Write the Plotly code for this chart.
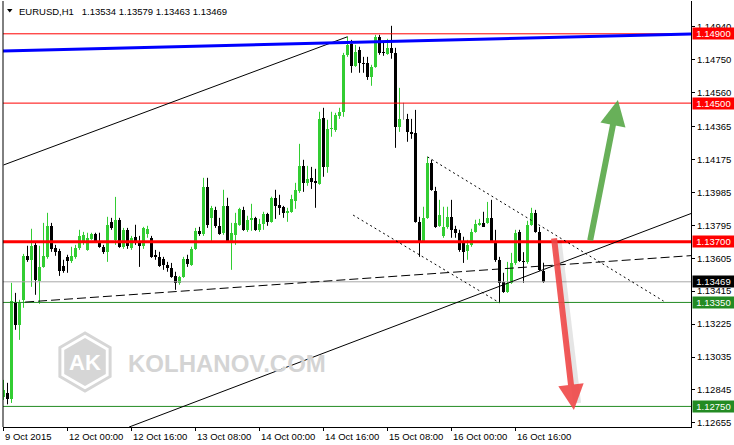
import math
import plotly.graph_objects as go

# ---------------- data (EURUSD H1, 9 Oct 08:00 .. 16 Oct 23:00) ----------------
opens = [
    1.12805, 1.12828, 1.12794, 1.13353, 1.13221, 1.13365, 1.13619, 1.13596, 1.13682, 1.13475,
    1.13555, 1.13613, 1.13792, 1.13665, 1.13648, 1.13561, 1.13613, 1.13590, 1.13613, 1.13665,
    1.13694, 1.13653, 1.13717, 1.13746, 1.13700, 1.13671, 1.13642, 1.13815, 1.13711, 1.13827,
    1.13671, 1.13769, 1.13665, 1.13729, 1.13694, 1.13677, 1.13746, 1.13723, 1.13625, 1.13613,
    1.13602, 1.13567, 1.13550, 1.13503, 1.13463, 1.13498, 1.13602, 1.13567, 1.13659, 1.13763,
    1.13746, 1.14017, 1.13838, 1.13884, 1.13792, 1.13752, 1.13907, 1.13700, 1.13740, 1.13798,
    1.13884, 1.13769, 1.13827, 1.13838, 1.13769, 1.13804, 1.13861, 1.13815, 1.13954, 1.13913,
    1.13902, 1.13867, 1.13873, 1.13936, 1.13994, 1.14138, 1.14040, 1.14069, 1.14052, 1.14034,
    1.14415, 1.14132, 1.14352, 1.14346, 1.14427, 1.14450, 1.14779, 1.14842, 1.14715, 1.14807,
    1.14732, 1.14732, 1.14652, 1.14709, 1.14883, 1.14796, 1.14784, 1.14819, 1.14790, 1.14363,
    1.14409, 1.14409, 1.14334, 1.14329, 1.13815, 1.13700, 1.13838, 1.14155, 1.13994, 1.13792,
    1.13734, 1.13786, 1.13844, 1.13775, 1.13752, 1.13694, 1.13648, 1.13682, 1.13757, 1.13798,
    1.13809, 1.13809, 1.13838, 1.13694, 1.13596, 1.13469, 1.13411, 1.13463, 1.13578, 1.13757,
    1.13590, 1.13584, 1.13798, 1.13867, 1.13757, 1.13534]
highs = [
    1.12903, 1.12886, 1.13463, 1.13405, 1.13365, 1.13630, 1.13677, 1.13775, 1.13694, 1.13677,
    1.13809, 1.13867, 1.13809, 1.13682, 1.13659, 1.13596, 1.13625, 1.13671, 1.13682, 1.13769,
    1.13757, 1.13752, 1.13752, 1.13752, 1.13752, 1.13682, 1.13844, 1.13838, 1.13959, 1.13838,
    1.13780, 1.13780, 1.13734, 1.13798, 1.13734, 1.13786, 1.13792, 1.13734, 1.13653, 1.13642,
    1.13613, 1.13584, 1.13578, 1.13527, 1.13503, 1.13613, 1.13625, 1.13671, 1.13780, 1.13786,
    1.14069, 1.14069, 1.13907, 1.13902, 1.13838, 1.14000, 1.13954, 1.13809, 1.13867, 1.13896,
    1.13902, 1.13850, 1.13919, 1.13844, 1.13832, 1.13873, 1.13867, 1.13960, 1.14000, 1.13971,
    1.13907, 1.13896, 1.13971, 1.14040, 1.14265, 1.14173, 1.14138, 1.14132, 1.14121, 1.14450,
    1.14473, 1.14404, 1.14450, 1.14444, 1.14473, 1.14790, 1.14883, 1.14865, 1.14836, 1.14825,
    1.14767, 1.14767, 1.14721, 1.14894, 1.14894, 1.14854, 1.14871, 1.14946, 1.14819, 1.14588,
    1.14502, 1.14438, 1.14409, 1.14461, 1.13844, 1.13902, 1.14190, 1.14173, 1.14017, 1.13942,
    1.13902, 1.13902, 1.13942, 1.13792, 1.13769, 1.13729, 1.13711, 1.13775, 1.13827, 1.13832,
    1.13873, 1.13930, 1.13942, 1.13769, 1.13613, 1.13521, 1.13584, 1.13636, 1.13769, 1.13769,
    1.13640, 1.13821, 1.13896, 1.13884, 1.13786, 1.13579]
lows = [
    1.12788, 1.12762, 1.12770, 1.13192, 1.13134, 1.13319, 1.13584, 1.13440, 1.13394, 1.13342,
    1.13550, 1.13602, 1.13642, 1.13619, 1.13503, 1.13521, 1.13521, 1.13578, 1.13602, 1.13653,
    1.13682, 1.13648, 1.13711, 1.13694, 1.13665, 1.13630, 1.13584, 1.13769, 1.13682, 1.13665,
    1.13659, 1.13659, 1.13653, 1.13682, 1.13555, 1.13659, 1.13723, 1.13607, 1.13596, 1.13555,
    1.13538, 1.13527, 1.13492, 1.13423, 1.13452, 1.13492, 1.13555, 1.13561, 1.13653, 1.13734,
    1.13734, 1.13780, 1.13694, 1.13780, 1.13740, 1.13740, 1.13694, 1.13538, 1.13682, 1.13792,
    1.13763, 1.13757, 1.13763, 1.13763, 1.13757, 1.13769, 1.13792, 1.13810, 1.13832, 1.13855,
    1.13838, 1.13815, 1.13867, 1.13890, 1.13982, 1.13988, 1.14023, 1.14005, 1.13896, 1.14029,
    1.14075, 1.14098, 1.14306, 1.14334, 1.14409, 1.14421, 1.14767, 1.14675, 1.14709, 1.14675,
    1.14675, 1.14634, 1.14600, 1.14704, 1.14779, 1.14773, 1.14779, 1.14756, 1.14242, 1.14334,
    1.14404, 1.14277, 1.14294, 1.13810, 1.13613, 1.13694, 1.13832, 1.13994, 1.13780, 1.13786,
    1.13723, 1.13775, 1.13723, 1.13723, 1.13642, 1.13578, 1.13596, 1.13671, 1.13752, 1.13792,
    1.13786, 1.13804, 1.13694, 1.13584, 1.13348, 1.13405, 1.13405, 1.13457, 1.13567, 1.13584,
    1.13463, 1.13573, 1.13792, 1.13752, 1.13532, 1.13463]
closes = [
    1.12846, 1.12794, 1.13359, 1.13221, 1.13348, 1.13619, 1.13596, 1.13677, 1.13480, 1.13555,
    1.13619, 1.13792, 1.13659, 1.13642, 1.13532, 1.13532, 1.13590, 1.13619, 1.13665, 1.13734,
    1.13740, 1.13723, 1.13746, 1.13705, 1.13671, 1.13642, 1.13798, 1.13780, 1.13827, 1.13671,
    1.13769, 1.13677, 1.13723, 1.13694, 1.13677, 1.13780, 1.13775, 1.13613, 1.13613, 1.13561,
    1.13567, 1.13550, 1.13498, 1.13463, 1.13498, 1.13602, 1.13573, 1.13659, 1.13763, 1.13746,
    1.14017, 1.13798, 1.13896, 1.13792, 1.13746, 1.13907, 1.13700, 1.13752, 1.13809, 1.13890,
    1.13769, 1.13827, 1.13838, 1.13769, 1.13804, 1.13861, 1.13815, 1.13954, 1.13907, 1.13896,
    1.13867, 1.13879, 1.13948, 1.14000, 1.14138, 1.14040, 1.14063, 1.14046, 1.14040, 1.14409,
    1.14132, 1.14352, 1.14357, 1.14432, 1.14450, 1.14779, 1.14836, 1.14715, 1.14796, 1.14732,
    1.14727, 1.14652, 1.14709, 1.14883, 1.14790, 1.14790, 1.14819, 1.14790, 1.14363, 1.14409,
    1.14409, 1.14334, 1.14323, 1.13815, 1.13700, 1.13838, 1.14155, 1.14000, 1.13786, 1.13855,
    1.13786, 1.13844, 1.13769, 1.13752, 1.13653, 1.13642, 1.13682, 1.13757, 1.13804, 1.13809,
    1.13786, 1.13838, 1.13694, 1.13596, 1.13463, 1.13411, 1.13463, 1.13578, 1.13752, 1.13590,
    1.13584, 1.13798, 1.13867, 1.13757, 1.13538, 1.13469]

time_tick_index = [0, 16, 32, 48, 64, 80, 96, 112, 128]
time_tick_text = ["9 Oct 2015", "12 Oct 00:00", "12 Oct 16:00", "13 Oct 08:00",
                  "14 Oct 00:00", "14 Oct 16:00", "15 Oct 08:00", "16 Oct 00:00",
                  "16 Oct 16:00"]
price_ticks = [1.14940, 1.14750, 1.14560, 1.14365, 1.14175, 1.13985, 1.13795,
               1.13605, 1.13415, 1.13225, 1.13035, 1.12845, 1.12655]

red_levels = [1.14900, 1.14500]
key_level = 1.13700
green_levels = [1.13350, 1.12750]
last_price = 1.13469
symbol_text = "EURUSD,H1"
ohlc_text = ["1.13534", "1.13579", "1.13463", "1.13469"]

# trend objects: (bar index, price) pairs
blue_line = [(-0.125, 1.14801), (171.875, 1.14899)]
channel_upper = [(0, 1.14143), (86, 1.14883)]
channel_lower = [(31.4, 1.12631), (171.875, 1.13863)]
dashed_line = [(5.4, 1.13352), (171.875, 1.13620)]
dotted_upper = [(106, 1.14190), (165, 1.13358)]
dotted_lower = [(87.4, 1.13854), (124, 1.13348)]
down_arrow = [(137.6, 1.13728), (142.6, 1.12729)]
up_arrow = [(146.6, 1.13699), (153.6, 1.14518)]

# ---------------- figure ----------------
FONT = "Liberation Sans, Arial, sans-serif"
BULL = "#32CD32"
BEAR = "#000000"
DOJI = "#8a8a8a"
LVL_GREEN = "#238b23"

W, H = 734, 445
ML, MR, MT, MB = 3, 43, 1, 18
PW, PH = W - ML - MR, H - MT - MB


def px(xp):
    return (xp - ML) / PW


def py(yp):
    return (H - MB - yp) / PH


idx = list(range(len(opens)))
bull = [i for i in idx if closes[i] > opens[i]]
bear = [i for i in idx if closes[i] < opens[i]]
doji = [i for i in idx if closes[i] == opens[i]]

fig = go.Figure()


def wick_trace(ids, color):
    xs, ys = [], []
    for i in ids:
        xs += [i, i, None]
        ys += [lows[i], highs[i], None]
    return go.Scatter(x=xs, y=ys, mode="lines", line=dict(color=color, width=1),
                      hoverinfo="skip", showlegend=False)


fig.add_trace(wick_trace(bull, BULL))
fig.add_trace(wick_trace(bear, BEAR))
fig.add_trace(wick_trace(doji, DOJI))

fig.add_trace(go.Bar(x=bull, y=[closes[i] - opens[i] for i in bull],
                     base=[opens[i] for i in bull], width=0.75,
                     marker=dict(color=BULL, line=dict(width=0)),
                     hoverinfo="skip", showlegend=False))
fig.add_trace(go.Bar(x=bear, y=[opens[i] - closes[i] for i in bear],
                     base=[closes[i] for i in bear], width=0.75,
                     marker=dict(color=BEAR, line=dict(width=0)),
                     hoverinfo="skip", showlegend=False))
fig.add_trace(go.Bar(x=doji, y=[0.00004 for i in doji],
                     base=[opens[i] - 0.00002 for i in doji], width=0.75,
                     marker=dict(color=DOJI, line=dict(width=0)),
                     hoverinfo="skip", showlegend=False))

shapes = []
annotations = []

# watermark (background)
cx, cy, r = 85, 362, 29
hex_outer = "M " + " L ".join(
    f"{px(cx + r * math.cos(math.radians(90 + 60 * k)))},{py(cy - r * math.sin(math.radians(90 + 60 * k)))}"
    for k in range(6)) + " Z"
r2 = 24
hex_inner = "M " + " L ".join(
    f"{px(cx + r2 * math.cos(math.radians(90 + 60 * k)))},{py(cy - r2 * math.sin(math.radians(90 + 60 * k)))}"
    for k in range(6)) + " Z"
shapes.append(dict(type="path", path=hex_outer, xref="paper", yref="paper",
                   line=dict(color="#d6d6d6", width=3), layer="below"))
shapes.append(dict(type="path", path=hex_inner, xref="paper", yref="paper",
                   fillcolor="#d6d6d6", line=dict(width=0), layer="below"))
annotations.append(dict(x=px(cx), y=py(cy), xref="paper", yref="paper", text="<b>AK</b>",
                        showarrow=False, font=dict(family=FONT, size=22, color="white"),
                        xanchor="center", yanchor="middle"))
annotations.append(dict(x=px(227), y=py(363), xref="paper", yref="paper",
                        text="<b>KOLHANOV.COM</b>", showarrow=False,
                        font=dict(family=FONT, size=24, color="#d4d4d4"),
                        xanchor="center", yanchor="middle"))

# horizontal levels
shapes.append(dict(type="line", xref="paper", x0=0, x1=1, yref="y", y0=last_price, y1=last_price,
                   line=dict(color="#a8a8a8", width=1)))
for lv in red_levels:
    shapes.append(dict(type="line", xref="paper", x0=0, x1=1, yref="y", y0=lv, y1=lv,
                       line=dict(color="#ff0000", width=1)))
for lv in green_levels:
    shapes.append(dict(type="line", xref="paper", x0=0, x1=1, yref="y", y0=lv, y1=lv,
                       line=dict(color=LVL_GREEN, width=1)))
shapes.append(dict(type="line", xref="paper", x0=0, x1=1, yref="y", y0=key_level, y1=key_level,
                   line=dict(color="#ff0000", width=3)))


def seg(pts, color, width, dash="solid"):
    (x0, y0), (x1, y1) = pts
    return dict(type="line", xref="x", yref="y", x0=x0, y0=y0, x1=x1, y1=y1,
                line=dict(color=color, width=width, dash=dash))


shapes.append(seg(channel_upper, "black", 1))
shapes.append(seg(channel_lower, "black", 1))
shapes.append(seg(dashed_line, "black", 1, "9px,4px"))
shapes.append(seg(dotted_upper, "black", 1, "2px,3px"))
shapes.append(seg(dotted_lower, "black", 1, "2px,3px"))
shapes.append(seg(blue_line, "#0000ff", 3))

# arrow shadow
(ax0, ay0), (ax1, ay1) = down_arrow
shapes.append(dict(type="line", xref="x", yref="y", x0=ax0 + 0.9, y0=ay0 - 0.0002,
                   x1=ax1 + 0.8, y1=ay1 + 0.0004,
                   line=dict(color="rgba(0,0,0,0.10)", width=8)))

# left border
shapes.append(dict(type="line", xref="paper", yref="paper", x0=0, x1=0, y0=0, y1=1,
                   line=dict(color="black", width=1)))

# menu triangle
shapes.append(dict(type="path", xref="paper", yref="paper",
                   path=f"M {px(7)},{py(9)} L {px(12.5)},{py(9)} L {px(9.75)},{py(12.5)} Z",
                   fillcolor="black", line=dict(width=0)))

# arrows
for pts, col in [(down_arrow, "rgba(240,72,72,0.9)"), (up_arrow, "rgba(88,168,72,0.9)")]:
    (tx, ty), (hx, hy) = pts
    annotations.append(dict(x=hx, y=hy, ax=tx, ay=ty, xref="x", yref="y", axref="x", ayref="y",
                            text="", showarrow=True, arrowhead=2, arrowsize=0.85,
                            arrowwidth=6, arrowcolor=col, standoff=0))

# title
title_full = symbol_text + "\u00a0\u00a0\u00a0" + "\u00a0".join(ohlc_text)
annotations.append(dict(x=0, y=1, xref="paper", yref="paper", xshift=14, yshift=-10,
                        text=title_full, showarrow=False, xanchor="left", yanchor="middle",
                        font=dict(family=FONT, size=9.5, color="black")))

# time labels
for ti, tt in zip(time_tick_index, time_tick_text):
    annotations.append(dict(x=ti, y=0, xref="x", yref="paper", text=tt, showarrow=False,
                            xanchor="left", yanchor="top", yshift=-2, xshift=-1,
                            font=dict(family=FONT, size=9.5, color="black")))


# price label boxes
def price_box(val, bg):
    return dict(x=1, y=val, xref="paper", yref="y", text=f"{val:.5f}", showarrow=False,
                xanchor="left", yanchor="middle", xshift=1, width=39, height=9,
                borderpad=1, bgcolor=bg, align="center",
                font=dict(family=FONT, size=9.5, color="white"))


for lv in red_levels + [key_level]:
    annotations.append(price_box(lv, "#ff0000"))
for lv in green_levels:
    annotations.append(price_box(lv, LVL_GREEN))
annotations.append(price_box(last_price, "#000000"))

y_bottom = 1.15095 - 0.0000577 * (H - MB)
y_top = 1.15095 - 0.0000577 * MT

fig.update_layout(
    width=W, height=H, margin=dict(l=ML, r=MR, t=MT, b=MB),
    paper_bgcolor="white", plot_bgcolor="white",
    barmode="overlay", bargap=0, showlegend=False, hovermode=False,
    shapes=shapes, annotations=annotations,
    xaxis=dict(range=[-0.125, 171.875], showgrid=False, zeroline=False,
               showline=True, linecolor="black", linewidth=1,
               tickvals=time_tick_index, ticks="outside", ticklen=3, tickcolor="black",
               showticklabels=False, fixedrange=True),
    yaxis=dict(range=[y_bottom, y_top], side="right", showgrid=False, zeroline=False,
               showline=True, linecolor="black", linewidth=1,
               tickvals=price_ticks, ticktext=[f"{v:.5f}" for v in price_ticks],
               ticks="outside", ticklen=3, tickcolor="black",
               tickfont=dict(family=FONT, size=9.5, color="black"), fixedrange=True),
)

fig.write_html("out.html", config={"staticPlot": True},
               post_script="document.body.style.margin='0';")
